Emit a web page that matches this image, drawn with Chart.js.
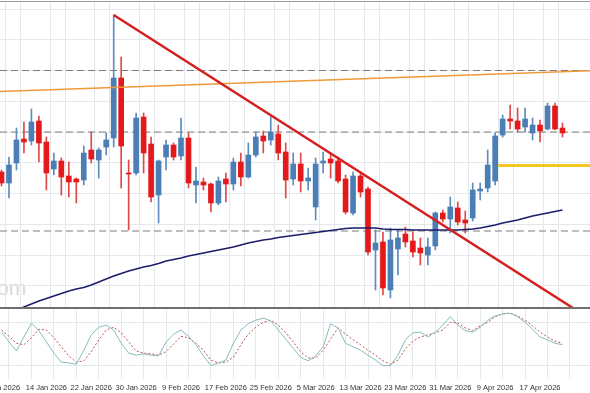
<!DOCTYPE html>
<html>
<head>
<meta charset="utf-8">
<title>Candles</title>
<script src="https://cdn.jsdelivr.net/npm/chart.js@4.4.1/dist/chart.umd.min.js"></script>
<style>
  html, body { margin: 0; padding: 0; background: #fff; }
  #wrap { position: relative; width: 590px; height: 393px; overflow: hidden; font-family: "Liberation Sans", Arial, sans-serif; }
  #topLine { position: absolute; left: 0; top: 1px; width: 590px; height: 1px; background: #9a9a9a; }
  #sepLine { position: absolute; left: 0; top: 307px; width: 590px; height: 2px; background: #6f6f6f; }
  #mark { position: absolute; left: -3px; top: 276px; font-size: 21px; color: #d9d9d9; }
  #mainChart { position: absolute; left: 0; top: 2px; }
  #oscChart { position: absolute; left: 0; top: 309px; }
</style>
</head>
<body>
<div id="wrap">
  <div id="mark">om</div>
  <div id="topLine"></div>
  <canvas id="mainChart" width="590" height="305"></canvas>
  <div id="sepLine"></div>
  <canvas id="oscChart" width="590" height="84"></canvas>
</div>
<script>
// Daily candles, 6 Jan 2026 -> 22 Apr 2026 (price units are arbitrary, no axis shown)
const opens  = [135,124,144,168,166,186,165,138,146,131,128,127,157,147,160,169,229,134,134,190,163,112,150,162,151,169,122,125,123,104,128,123,145,130,152,171,167,173,155,128,143,126,100,144,148,146,128,94,131,118,57,65,17,58,73,66,59,52,61,94,88,99,87,89,116,119,126,172,188,186,180,174,182,178,201,179];
const highs  = [137,150,179,185,198,191,170,154,149,145,129,161,175,159,174,292,250,147,194,194,170,147,167,164,189,174,140,129,124,130,134,149,154,164,175,176,190,182,164,154,154,139,149,155,154,150,132,135,135,120,77,75,79,77,80,75,69,69,95,97,110,105,96,124,124,157,174,192,202,199,199,189,187,204,204,184];
const lows   = [121,109,137,154,162,145,117,132,112,110,104,122,144,129,152,160,119,77,132,134,105,84,137,147,147,119,104,117,95,102,105,117,121,129,150,154,162,147,109,122,115,117,87,134,129,124,93,92,110,52,17,12,9,32,60,50,42,42,57,85,74,82,74,86,107,115,122,170,178,175,175,167,165,177,177,170];
const closes = [124,142,167,165,185,164,134,146,130,125,125,154,148,157,167,229,161,133,189,154,110,146,162,150,169,124,126,122,104,126,123,145,130,152,170,166,175,154,127,143,126,129,143,146,144,126,95,131,115,55,64,19,67,69,65,55,54,60,94,88,100,85,84,117,118,142,171,188,186,178,188,182,176,201,178,174];

// moving average (navy line)
const maLine = [-8,-5,-2.5,0,3,6,8.5,11,13.5,16,18,19.5,22,25,28,31,33.5,36,38,40,41.5,43.5,46,47.5,49,51,52.5,54,55.5,57,58.5,60,62,64,65.5,67,68,69.5,70.5,71.5,72.5,73.5,74.5,75.5,76.5,77.5,78.5,79,79,79,79,78,77.5,77.5,77.5,77,77,77,77,77,77,77,77.5,78,79,80.5,82,84,85.5,87,89,91,92.5,94,95.5,97];

// stochastic oscillator (%K solid, %D dotted)
const stochK = [67,53,40,60,80,69,53,37,24,23,21,41,63,74,77,70,51,37,34,36,34,33,53,64,70,61,49,33,19,23,27,51,70,79,84,87,83,70,57,44,31,26,33,46,79,73,51,46,41,34,27,19,19,34,56,66,67,60,67,77,89,77,69,67,74,84,90,93,94,89,81,71,60,56,51,49];
const stochD = [70,61,51,49,59,71,70,59,46,33,24,26,39,56,70,74,66,53,40,37,36,34,39,50,61,59,51,41,27,23,24,31,49,64,74,81,84,77,66,53,39,30,30,41,57,73,64,56,49,41,34,26,21,27,43,54,60,63,66,70,81,80,73,69,76,81,89,93,94,90,84,76,67,60,54,51];

// drawn lines: [index, price] pairs
const downTrend  = [[15, 292], [76.4, -1]];
const upperTrend = [[-0.2, 215.5], [78.7, 236.3]];
const supportLine = [[66.4, 141.5], [78.7, 141.5]];
const dashedLevels = [236.5, 175, 76];

const tickLabels = ['6 Jan 2026', '14 Jan 2026', '22 Jan 2026', '30 Jan 2026', '9 Feb 2026', '17 Feb 2026',
  '25 Feb 2026', '5 Mar 2026', '13 Mar 2026', '23 Mar 2026', '31 Mar 2026', '9 Apr 2026', '17 Apr 2026'];

const X_MIN = -0.2, X_MAX = 78.68;
const GRID = '#e4e8ec';
const BLUE = '#4a7eb5', RED = '#e3191c';

function isUp(i) { return closes[i] >= opens[i]; }

function toPoints(pairs) { return pairs.map(p => ({ x: p[0], y: p[1] })); }

// vertical grid every 3 candles, labels every 6
const xTicks = [];
for (let v = 0; v <= 78; v++) {
  if (v % 3 === 1 || v % 6 === 0) xTicks.push(v);
}
const yGrid = [];
for (let v = 21.25; v < 305; v += 30.75) yGrid.push(v);

function xScale(showLabels) {
  return {
    type: 'linear', min: X_MIN, max: X_MAX, offset: false,
    afterBuildTicks: s => { s.ticks = xTicks.map(v => ({ value: v })); },
    afterFit: s => { s.paddingLeft = 0; s.paddingRight = 0; s.height = showLabels ? 14 : 0; },
    border: { display: false },
    grid: { drawTicks: false, color: c => (c.tick && c.tick.value % 3 === 1 ? GRID : 'rgba(0,0,0,0)') },
    ticks: {
      display: showLabels, autoSkip: false, maxRotation: 0, padding: 4, color: '#333',
      font: { size: 7.5, family: '"Liberation Sans", Arial, sans-serif' },
      callback: v => (v % 6 === 0 ? tickLabels[v / 6] : '')
    }
  };
}

function initMain() {
  const idx = opens.map((_, i) => i);
  const datasets = [
    { type: 'line', data: toPoints(downTrend), borderColor: '#d61f1f', borderWidth: 2.5, pointRadius: 0, order: 0 },
    { type: 'line', data: toPoints(upperTrend), borderColor: '#f09a3a', borderWidth: 1.6, pointRadius: 0, order: 1 },
    { type: 'line', data: toPoints(supportLine), borderColor: '#f2c81e', borderWidth: 3.2, pointRadius: 0, order: 2 },
    { type: 'line', data: idx.map(i => ({ x: i, y: maLine[i] })), borderColor: '#1b1b6b', borderWidth: 1.5, pointRadius: 0, order: 3 },
    {
      type: 'bar', data: idx.map(i => ({ x: i, y: [opens[i], closes[i]] })), barThickness: 5, grouped: false,
      backgroundColor: c => (isUp(c.dataIndex) ? BLUE : RED), borderWidth: 0, order: 4
    },
    {
      type: 'bar', data: idx.map(i => ({ x: i, y: [lows[i], highs[i]] })), barThickness: 1, grouped: false,
      backgroundColor: c => (isUp(c.dataIndex) ? '#5d8cbd' : '#e04848'), borderWidth: 0, order: 5
    }
  ];
  dashedLevels.forEach(lv => {
    datasets.push({
      type: 'line', data: [{ x: X_MIN, y: lv }, { x: X_MAX, y: lv }], borderColor: '#7c7c7c',
      borderWidth: 1, borderDash: [7, 4], pointRadius: 0, order: 6
    });
  });

  new Chart(document.getElementById('mainChart'), {
    type: 'bar',
    data: { datasets: datasets },
    options: {
      responsive: false, animation: false, events: [],
      layout: { padding: 0 },
      plugins: { legend: { display: false }, tooltip: { enabled: false } },
      scales: {
        x: xScale(false),
        y: {
          min: 0, max: 305,
          afterBuildTicks: s => { s.ticks = yGrid.map(v => ({ value: v })); },
          afterFit: s => { s.width = 0; },
          border: { display: false },
          grid: { drawTicks: false, color: GRID },
          ticks: { display: false }
        }
      }
    }
  });
}

function initOscillator() {
  const idx = stochK.map((_, i) => i);
  new Chart(document.getElementById('oscChart'), {
    type: 'line',
    data: {
      datasets: [
        { data: idx.map(i => ({ x: i, y: stochK[i] })), borderColor: '#86bcbc', borderWidth: 1, pointRadius: 0 },
        { data: idx.map(i => ({ x: i, y: stochD[i] })), borderColor: '#c0504d', borderWidth: 1, borderDash: [2, 2], pointRadius: 0 }
      ]
    },
    options: {
      responsive: false, animation: false, events: [],
      layout: { padding: 0 },
      plugins: { legend: { display: false }, tooltip: { enabled: false } },
      scales: {
        x: xScale(true),
        y: {
          min: 0, max: 100,
          afterBuildTicks: s => { s.ticks = [{ value: 20 }, { value: 80 }]; },
          afterFit: s => { s.width = 0; },
          border: { display: false },
          grid: { drawTicks: false, color: GRID },
          ticks: { display: false }
        }
      }
    }
  });
}

document.addEventListener('DOMContentLoaded', () => {
  initMain();
  initOscillator();
});
</script>
</body>
</html>
